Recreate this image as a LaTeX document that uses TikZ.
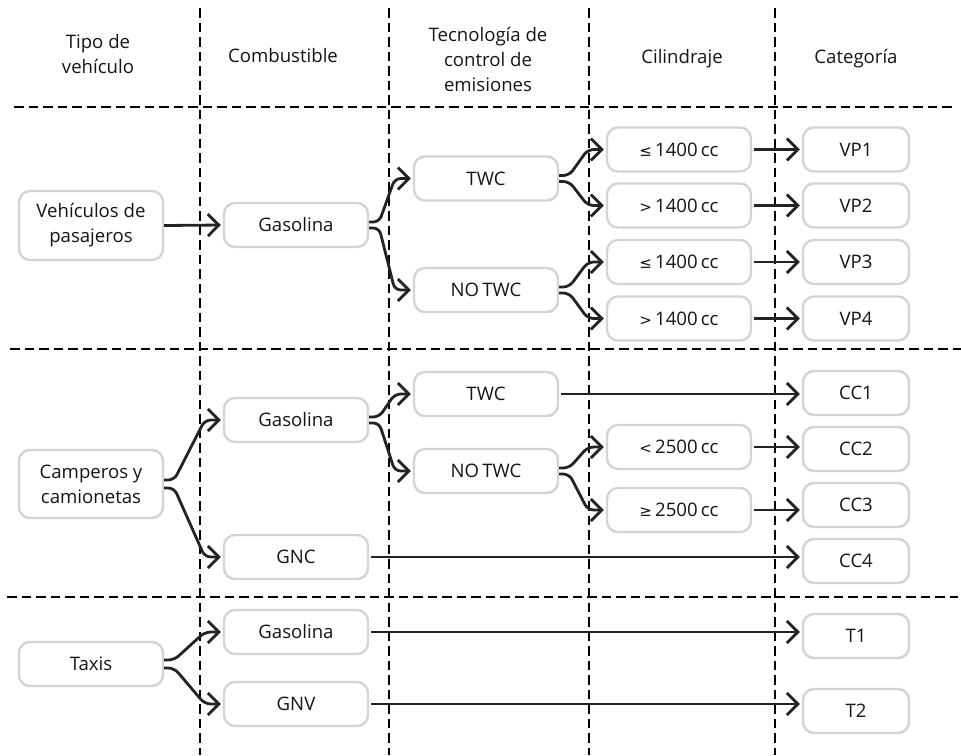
\documentclass[tikz,border=0pt]{standalone}
\usepackage{fontspec}
\setmainfont{Open Sans}
\newfontfamily\symf{DejaVu Sans}
\usetikzlibrary{arrows.meta,calc}
\definecolor{boxgray}{RGB}{212,212,212}
\definecolor{ink}{RGB}{22,20,20}
\definecolor{linecol}{RGB}{36,34,34}
\newcommand\sy[1]{{\symf\fontsize{15}{18}\selectfont #1}}
\newcommand\forkto[3]{\draw[conn, rounded corners=6pt] ([yshift=#3]#1.east) -- ++(10,0) -- ([xshift=-18pt]#2.west) -- (#2.west);}
\tikzset{
  box/.style={draw=boxgray, line width=2.4pt, rounded corners=11pt, fill=white,
    minimum width=144pt, minimum height=44pt, align=center, inner sep=0pt},
  catbox/.style={box, minimum width=106pt},
  conn/.style={line width=2.8pt, draw=linecol, -{Straight Barb[length=11pt,width=22pt]}, shorten >=2pt},
  sepline/.style={line width=2.6pt, draw=black, dash pattern=on 9.5pt off 5pt},
  head/.style={align=center, inner sep=0pt}
}
\begin{document}
\begin{tikzpicture}[x=1pt,y=-1pt, font=\fontsize{18.6}{25}\selectfont, text=ink]
\useasboundingbox (0,0) rectangle (961,755);
% separators
\draw[sepline] (200,8) -- (200,755);
\draw[sepline] (389,8) -- (389,755);
\draw[sepline] (589,8) -- (589,755);
\draw[sepline] (775,8) -- (775,755);
\draw[sepline] (14,107) -- (953,107);
\draw[sepline] (10,349) -- (961,349);
\draw[sepline] (7,597) -- (958,597);
% headers
\node[head] (h1) at (98,54) {Tipo de\\vehículo};
\node[head] (h2) at (283,56) {Combustible};
\node[head] (h3) at (488,59) {Tecnología de\\control de\\emisiones};
\node[head] (h4) at (682,59) {Cilindraje};
\node[head] (h5) at (856,59) {Categoría};
% passenger vehicles
\node[box, minimum height=69pt] (veh) at (91,225.5) {Vehículos de\\pasajeros};
\node[box] (gasA) at (296,225) {Gasolina};
\node[box] (twcA) at (486,178.5) {TWC};
\node[box] (notwcA) at (486,290) {NO\,TWC};
\node[box] (cA1) at (679,149.5) {\sy{≤}\,1400\,cc};
\node[box] (cA2) at (679,205.5) {\sy{>}\,1400\,cc};
\node[box] (cA3) at (679,262) {\sy{≤}\,1400\,cc};
\node[box] (cA4) at (679,318.5) {\sy{>}\,1400\,cc};
\node[catbox] (vp1) at (856,149.5) {VP1};
\node[catbox] (vp2) at (856,205.5) {VP2};
\node[catbox] (vp3) at (856,262) {VP3};
\node[catbox] (vp4) at (856,318.5) {VP4};
% camperos
\node[box, minimum height=68pt] (camp) at (91,484) {Camperos y\\camionetas};
\node[box] (gasB) at (296,420) {Gasolina};
\node[box] (gnc) at (296,557) {GNC};
\node[box] (twcB) at (486,394) {TWC};
\node[box] (notwcB) at (486,471) {NO\,TWC};
\node[box] (cB1) at (679,447) {\sy{<}\,2500\,cc};
\node[box] (cB2) at (679,510) {\sy{≥}\,2500\,cc};
\node[catbox] (cc1) at (856,393) {CC1};
\node[catbox] (cc2) at (856,449) {CC2};
\node[catbox] (cc3) at (856,505) {CC3};
\node[catbox] (cc4) at (856,561) {CC4};
% taxis
\node[box] (taxi) at (91,664) {Taxis};
\node[box] (gasC) at (296,632) {Gasolina};
\node[box] (gnv) at (296,704) {GNV};
\node[catbox] (t1) at (856,636) {T1};
\node[catbox] (t2) at (856,711) {T2};
% connectors
\draw[conn] (veh.east) -- (gasA.west);
\forkto{gasA}{twcA}{3pt}
\forkto{gasA}{notwcA}{-3pt}
\forkto{twcA}{cA1}{3pt}
\forkto{twcA}{cA2}{-3pt}
\forkto{notwcA}{cA3}{3pt}
\forkto{notwcA}{cA4}{-3pt}
\draw[conn, shorten <=2pt] (cA1.east) -- (vp1.west);
\draw[conn, shorten <=2pt] (cA2.east) -- (vp2.west);
\draw[conn, shorten <=2pt] (cA3.east) -- (vp3.west);
\draw[conn, shorten <=2pt] (cA4.east) -- (vp4.west);
\forkto{camp}{gasB}{4pt}
\forkto{camp}{gnc}{-4pt}
\forkto{gasB}{twcB}{3pt}
\forkto{gasB}{notwcB}{-3pt}
\forkto{notwcB}{cB1}{3pt}
\forkto{notwcB}{cB2}{-3pt}
\draw[conn, shorten <=2pt] (twcB.east) -- (twcB.east -| cc1.west);
\draw[conn, shorten <=2pt] (cB1.east) -- (cB1.east -| cc2.west);
\draw[conn, shorten <=2pt] (cB2.east) -- (cB2.east -| cc3.west);
\draw[conn, shorten <=2pt] (gnc.east) -- (gnc.east -| cc4.west);
\forkto{taxi}{gasC}{4pt}
\forkto{taxi}{gnv}{-4pt}
\draw[conn, shorten <=2pt] (gasC.east) -- (gasC.east -| t1.west);
\draw[conn, shorten <=2pt] (gnv.east) -- (gnv.east -| t2.west);
\end{tikzpicture}
\end{document}
